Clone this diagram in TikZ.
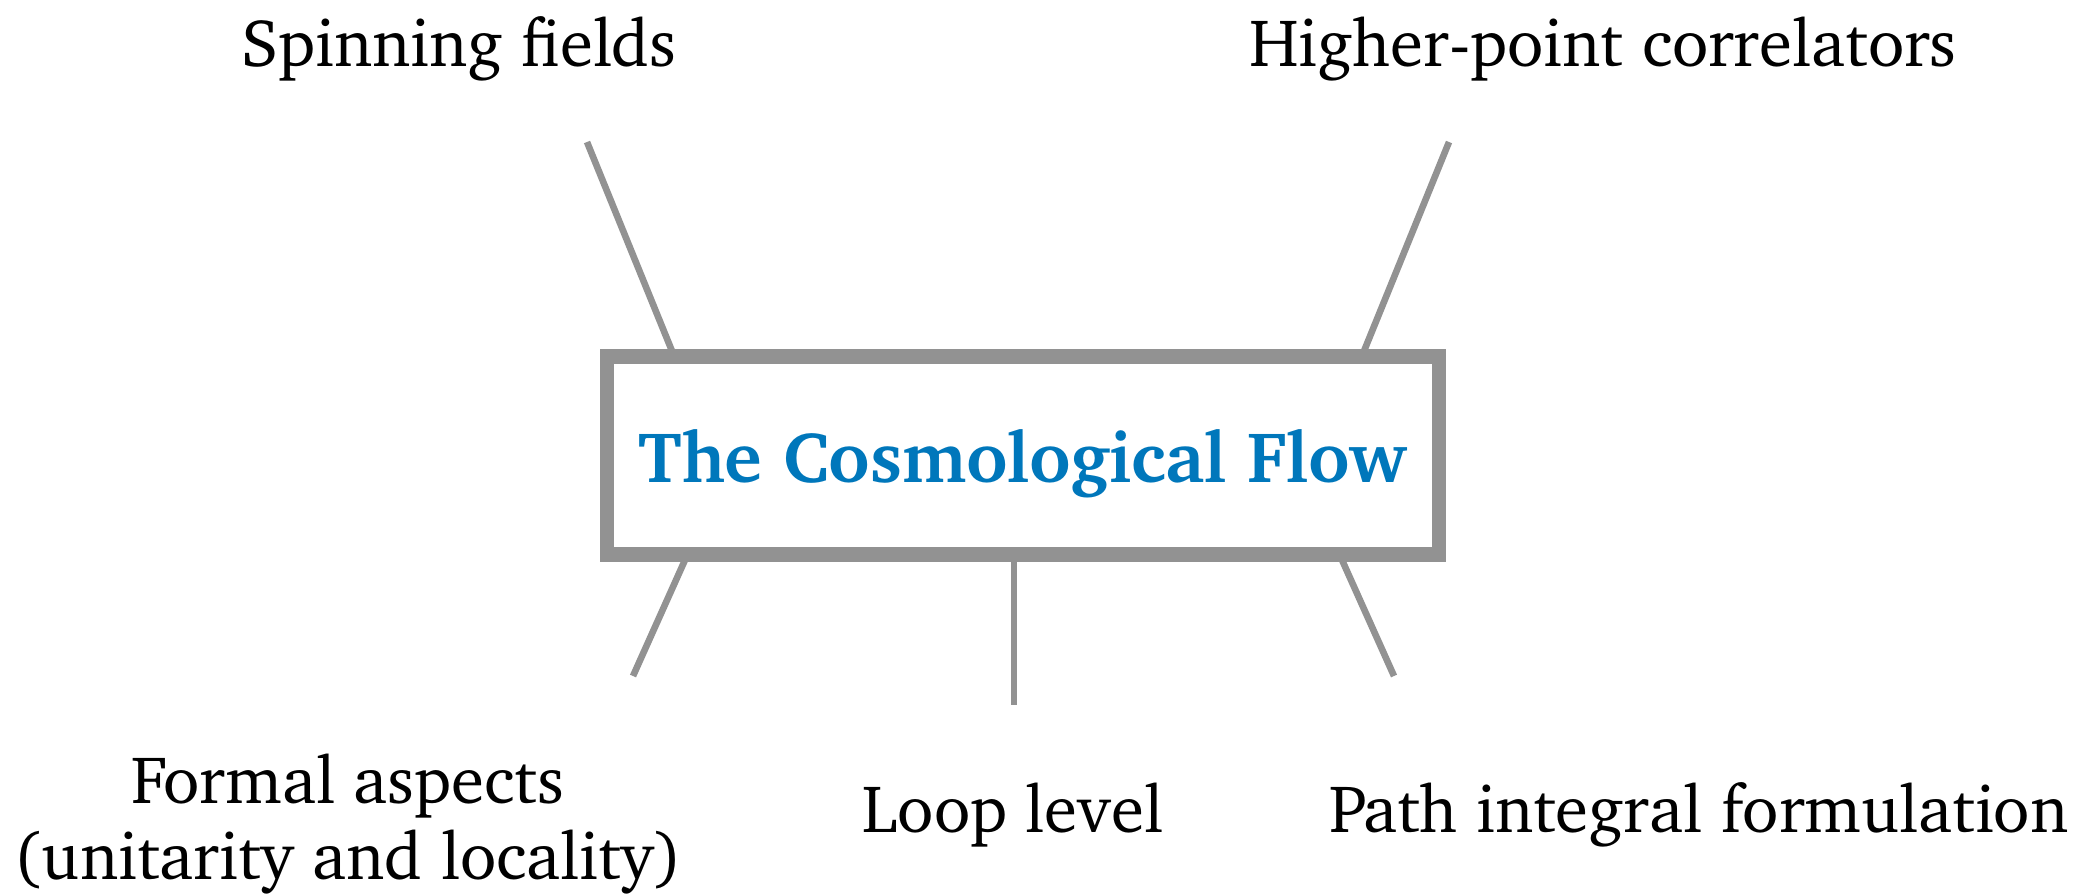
\documentclass[tikz,border=0pt]{standalone}
\usepackage[T1]{fontenc}
\usepackage{charter}
\definecolor{linegray}{RGB}{146,146,146}
\definecolor{titleblue}{RGB}{0,119,187}
\tikzset{
  lbl/.style={font=\fontsize{33.6}{38}\selectfont, anchor=base, inner sep=0pt, align=center},
  conn/.style={draw=linegray, line width=3.3pt},
}
\begin{document}
\begin{tikzpicture}[x=0.5pt,y=-0.5pt]
\useasboundingbox (0,0) rectangle (2086,895);
\draw[linegray, line width=7.2pt, fill=white] (607,356.5) rectangle (1439,554.5);
\node[inner sep=0pt, anchor=base, font=\fontsize{35.8}{38}\selectfont\bfseries, text=titleblue] (title) at (1023,482) {The Cosmological Flow};
\node[lbl] (spin) at (459,66) {Spinning fields};
\node[lbl] (higher) at (1603,66) {Higher-point correlators};
\node[lbl] (formal) at (348,803) {Formal aspects};
\node[lbl] (formal2) at (348,879) {(unitarity and locality)};
\node[lbl] (loop) at (1013,832) {Loop level};
\node[lbl] (path) at (1699,832) {Path integral formulation};
\coordinate (a1) at (672,351); \coordinate (a2) at (587,142);
\coordinate (b1) at (1364,351); \coordinate (b2) at (1449,142);
\coordinate (c1) at (685,560); \coordinate (c2) at (633,676);
\coordinate (d1) at (1014,560); \coordinate (d2) at (1014,705);
\coordinate (e1) at (1342,560); \coordinate (e2) at (1394,676);
\draw[conn] (a1) -- (a2);
\draw[conn] (b1) -- (b2);
\draw[conn] (c1) -- (c2);
\draw[conn] (d1) -- (d2);
\draw[conn] (e1) -- (e2);
\end{tikzpicture}
\end{document}
